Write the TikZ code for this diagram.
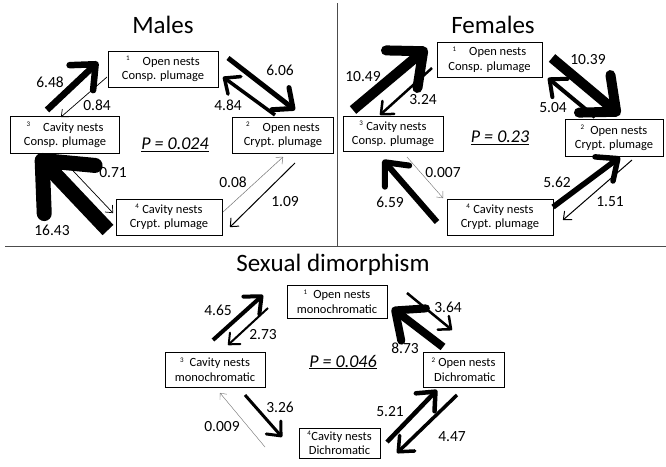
\documentclass[tikz,border=0pt]{standalone}
\usepackage{fontspec}
\setmainfont{Carlito}
\usetikzlibrary{arrows.meta}
\tikzset{
  box/.style={draw, line width=0.8pt, align=center, inner sep=1pt, font=\fontsize{12.5}{14.5}\selectfont},
  ttl/.style={font=\fontsize{25}{28}\selectfont},
  num/.style={font=\fontsize{15.5}{18}\selectfont, inner sep=0pt},
  pval/.style={font=\fontsize{18}{20}\selectfont\itshape, inner sep=0pt},
  arr/.style={line width=#1, -{Straight Barb[length=4pt 2.4, width=7pt 4.2, round]}},
  garr/.style={arr=#1, draw=black!55},
  divider/.style={line width=1pt, draw=black!70}
}
\newcommand{\nb}[1]{\textsuperscript{\fontsize{7}{8}\selectfont #1}}
\begin{document}
\begin{tikzpicture}[x=1pt,y=-1pt]
\useasboundingbox[fill=white] (0,0) rectangle (666,466);
% dividers
\coordinate (vt) at (337,3);
\coordinate (vb) at (337,246);
\coordinate (hl) at (5,246);
\coordinate (hr) at (666,246);
\draw[divider] (vt) -- (vb);
\draw[divider] (hl) -- (hr);

% ===== Males =====
\node[ttl] (tm) at (163,25) {Males};
\node[box, minimum width=110pt, minimum height=36pt] (m1) at (163,69) {\nb{1}\quad Open nests\\Consp. plumage};
\node[box, minimum width=109pt, minimum height=37pt] (m3) at (65,135) {\nb{3}\quad Cavity nests\\Consp. plumage};
\node[box, minimum width=101pt, minimum height=36pt] (m2) at (283,135) {\nb{2}\quad Open nests\\Crypt. plumage};
\node[box, minimum width=106pt, minimum height=36pt] (m4) at (169,217) {\nb{4} Cavity nests\\Crypt. plumage};
\node[pval] (pm) at (175,145) {\underline{P = 0.024}};

\coordinate (a1s) at (47,110);  \coordinate (a1e) at (98,62);
\coordinate (a2s) at (107,77);  \coordinate (a2e) at (61,117);
\coordinate (a3s) at (228,58);  \coordinate (a3e) at (295,110);
\coordinate (a4s) at (275,115); \coordinate (a4e) at (223,77);
\coordinate (a5s) at (223,212); \coordinate (a5e) at (283,157);
\coordinate (a6s) at (295,163); \coordinate (a6e) at (230,227);
\coordinate (a7s) at (60,157);  \coordinate (a7e) at (113,213);
\coordinate (a8s) at (108,230); \coordinate (a8e) at (37,155);
\draw[arr=6.5pt] (a1s) -- (a1e);
\draw[arr=0.7pt] (a2s) -- (a2e);
\draw[arr=5pt] (a3s) -- (a3e);
\draw[arr=3.5pt] (a4s) -- (a4e);
\draw[garr=0.5pt] (a5s) -- (a5e);
\draw[arr=1pt] (a6s) -- (a6e);
\draw[arr=0.7pt] (a7s) -- (a7e);
\draw[arr=15pt] (a8s) -- (a8e);
\node[num] (ma1) at (50,82) {6.48};
\node[num] (ma2) at (97,105) {0.84};
\node[num] (ma3) at (280,70) {6.06};
\node[num] (ma4) at (228,105) {4.84};
\node[num] (ma5) at (233,182) {0.08};
\node[num] (ma6) at (285,202) {1.09};
\node[num] (ma7) at (113,173) {0.71};
\node[num] (ma8) at (52,230) {16.43};

% ===== Females =====
\node[ttl] (tf) at (493,25) {Females};
\node[box, minimum width=105pt, minimum height=35pt] (f1) at (489.5,59.5) {\nb{1}\quad Open nests\\Consp. plumage};
\node[box, minimum width=100pt, minimum height=35pt] (f3) at (393,134) {\nb{3}\ Cavity nests\\Consp. plumage};
\node[box, minimum width=98pt, minimum height=37pt] (f2) at (614,138) {\nb{2}\ \ Open nests\\Crypt. plumage};
\node[box, minimum width=106pt, minimum height=36pt] (f4) at (500,217) {\nb{4} Cavity nests\\Crypt. plumage};
\node[pval] (pf) at (500,138) {\underline{P = 0.23}};

\coordinate (b1s) at (353,110); \coordinate (b1e) at (427,48);
\coordinate (b2s) at (432,68);  \coordinate (b2e) at (380,115);
\coordinate (b3s) at (552,58);  \coordinate (b3e) at (620,115);
\coordinate (b4s) at (595,117); \coordinate (b4e) at (548,78);
\coordinate (b5s) at (553,207); \coordinate (b5e) at (620,157);
\coordinate (b6s) at (632,160); \coordinate (b6e) at (563,220);
\coordinate (b7s) at (407,157); \coordinate (b7e) at (443,198);
\coordinate (b8s) at (437,222); \coordinate (b8e) at (383,160);
\draw[arr=10pt] (b1s) -- (b1e);
\draw[arr=2.5pt] (b2s) -- (b2e);
\draw[arr=10pt] (b3s) -- (b3e);
\draw[arr=4pt] (b4s) -- (b4e);
\draw[arr=5.5pt] (b5s) -- (b5e);
\draw[arr=1pt] (b6s) -- (b6e);
\draw[garr=0.4pt] (b7s) -- (b7e);
\draw[arr=6pt] (b8s) -- (b8e);
\node[num] (fa1) at (363,77) {10.49};
\node[num] (fa2) at (423,100) {3.24};
\node[num] (fa3) at (588,60) {10.39};
\node[num] (fa4) at (553,108) {5.04};
\node[num] (fa5) at (557,182) {5.62};
\node[num] (fa6) at (610,202) {1.51};
\node[num] (fa7) at (443,173) {0.007};
\node[num] (fa8) at (390,202) {6.59};

% ===== Sexual dimorphism =====
\node[ttl] (ts) at (333,265) {Sexual dimorphism};
\node[box, minimum width=100pt, minimum height=33pt] (s1) at (337,301.5) {\nb{1}\ \ Open nests\\monochromatic};
\node[box, minimum width=100pt, minimum height=35pt] (s3) at (215,369.5) {\nb{3}\ \ Cavity nests\\monochromatic};
\node[box, minimum width=81pt, minimum height=35pt] (s2) at (463.5,369.5) {\nb{2} Open nests\\\hfill Dichromatic};
\node[box, minimum width=81pt, minimum height=30pt] (s4) at (339.5,443) {\nb{4}Cavity nests\\Dichromatic};
\node[pval] (ps) at (343,362) {\underline{P = 0.046}};

\coordinate (c1s) at (213,340); \coordinate (c1e) at (263,295);
\coordinate (c2s) at (268,308); \coordinate (c2e) at (228,345);
\coordinate (c3s) at (407,293); \coordinate (c3e) at (452,330);
\coordinate (c4s) at (443,347); \coordinate (c4e) at (392,308);
\coordinate (c5s) at (245,395); \coordinate (c5e) at (282,437);
\coordinate (c6s) at (265,447); \coordinate (c6e) at (220,393);
\coordinate (c7s) at (387,442); \coordinate (c7e) at (437,390);
\coordinate (c8s) at (457,395); \coordinate (c8e) at (397,453);
\draw[arr=4pt] (c1s) -- (c1e);
\draw[arr=2pt] (c2s) -- (c2e);
\draw[arr=2.5pt] (c3s) -- (c3e);
\draw[arr=8pt] (c4s) -- (c4e);
\draw[arr=3pt] (c5s) -- (c5e);
\draw[garr=0.4pt] (c6s) -- (c6e);
\draw[arr=4.5pt] (c7s) -- (c7e);
\draw[arr=3.5pt] (c8s) -- (c8e);
\node[num] (sa1) at (218,310) {4.65};
\node[num] (sa2) at (263,335) {2.73};
\node[num] (sa3) at (448,307) {3.64};
\node[num] (sa4) at (405,348) {8.73};
\node[num] (sa5) at (280,407) {3.26};
\node[num] (sa6) at (222,427) {0.009};
\node[num] (sa7) at (390,412) {5.21};
\node[num] (sa8) at (452,437) {4.47};
\end{tikzpicture}
\end{document}
